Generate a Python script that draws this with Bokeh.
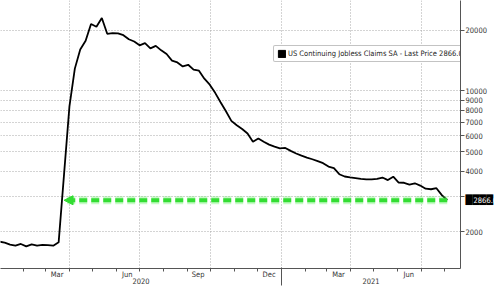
import pandas as pd
from bokeh.plotting import figure
from bokeh.models import (Range1d, FixedTicker, DatetimeTickFormatter, NumeralTickFormatter,
                          Legend, LegendItem, Arrow, NormalHead, DatetimeAxis, LogAxis)
from bokeh.embed import file_html
from bokeh.resources import INLINE

# ---- data (US continuing jobless claims, thousands, weekly) ----
start_date = "2020-01-01"
claims = [1786, 1766, 1727, 1706, 1739, 1692, 1732, 1706, 1720, 1716, 1706, 1772,
          3850, 8380, 12900, 16060, 17730, 21500, 20800, 23000, 19200, 19350, 19300,
          18900, 18050, 17580, 16840, 17270, 16270, 16740, 15900, 15240, 14140, 13850,
          13230, 13480, 12750, 12600, 11500, 10740, 9780, 8780, 7920, 7100, 6750, 6470,
          6150, 5590, 5800, 5590, 5410, 5290, 5180, 5210, 5040, 4890, 4770, 4670, 4580,
          4480, 4380, 4210, 4140, 3860, 3760, 3720, 3690, 3660, 3640, 3640, 3660, 3716,
          3610, 3750, 3510, 3500, 3430, 3480, 3390, 3270, 3250, 3290, 3040, 2866]
dates = pd.date_range(start_date, periods=len(claims), freq="7D")

y_ticks = [2000, 3000, 4000, 5000, 6000, 7000, 8000, 9000, 10000, 20000]
month_label_dates = ["2020-03-16", "2020-06-15", "2020-09-15", "2020-12-16", "2021-03-16", "2021-06-15"]
quarter_dates = ["2020-04-01", "2020-07-01", "2020-10-01", "2021-01-01", "2021-04-01", "2021-07-01"]
month_start_dates = [str(d.date()) for d in pd.date_range("2020-02-01", "2021-08-01", freq="MS")]
year_start = "2021-01-01"
series_name = "US Continuing Jobless Claims SA - Last Price"
arrow_tip_date = "2020-03-25"

x_start = pd.Timestamp("2020-01-02 14:00")
x_end = pd.Timestamp("2021-08-21 05:00")
y_lo, y_hi = 1314, 28100


def ms(d):
    return pd.Timestamp(d).value / 1e6


FONT = "'Liberation Sans Narrow', 'DejaVu Sans Condensed', 'Arial Narrow', sans-serif"
AX = "#555555"
TXT = "#333333"

p = figure(width=500, height=286, x_axis_type="datetime", y_axis_type="log",
           y_axis_location="right", output_backend="svg", toolbar_location=None,
           x_range=Range1d(x_start, x_end), y_range=Range1d(y_lo, y_hi),
           min_border_left=0, min_border_top=0, min_border_right=26, min_border_bottom=17)
p.outline_line_color = None
p.background_fill_color = "white"
p.border_fill_color = "white"

# grids
p.xgrid.ticker = FixedTicker(ticks=[ms(d) for d in quarter_dates])
p.ygrid.ticker = FixedTicker(ticks=y_ticks)
for g in (p.xgrid, p.ygrid):
    g.grid_line_color = "#a8a8a8"
    g.grid_line_dash = "1 2"
    g.grid_line_width = 1

# x axis (months)
xa = p.xaxis[0]
xa.ticker = FixedTicker(ticks=[ms(d) for d in month_label_dates],
                        minor_ticks=[ms(d) for d in month_start_dates])
xa.formatter = DatetimeTickFormatter(days="%b", months="%b", years="%b", hours="%b")
xa.major_tick_out = 0
xa.major_tick_in = 0
xa.minor_tick_out = 3
xa.minor_tick_in = 0
xa.axis_line_color = AX
xa.minor_tick_line_color = AX
xa.major_label_standoff = -2
xa.major_label_text_font_size = "7.5px"
xa.major_label_text_font = FONT
xa.major_label_text_color = TXT

# second x axis (years), labels centred on the visible part of each year
y2020_mid = x_start + (pd.Timestamp(year_start) - x_start) / 2
y2021_mid = pd.Timestamp(year_start) + (x_end - pd.Timestamp(year_start)) / 2
xa2 = DatetimeAxis(ticker=FixedTicker(ticks=[ms(y2020_mid), ms(y2021_mid)], minor_ticks=[ms(year_start)]),
                   formatter=DatetimeTickFormatter(days="%Y", months="%Y", years="%Y", hours="%Y"),
                   axis_line_color=None, major_tick_out=0, major_tick_in=0,
                   minor_tick_in=14, minor_tick_out=4, minor_tick_line_color=AX,
                   major_label_standoff=-8, major_label_text_font_size="7.5px",
                   major_label_text_font=FONT, major_label_text_color=TXT)
p.add_layout(xa2, "below")

# y axis (right)
ya = p.yaxis[0]
ya.ticker = FixedTicker(ticks=y_ticks, minor_ticks=[])
ya.formatter = NumeralTickFormatter(format="0")
ya.major_label_overrides = {3000: ""}
ya.major_tick_out = 4
ya.major_tick_in = 0
ya.minor_tick_out = 0
ya.axis_line_color = AX
ya.major_tick_line_color = AX
ya.major_label_standoff = 1
ya.major_label_text_font_size = "7.5px"
ya.major_label_text_font = FONT
ya.major_label_text_color = TXT

last = claims[-1]

# last-price tag: a black block (axis label made of block glyphs) under white text
tag_bg = LogAxis(ticker=FixedTicker(ticks=[last], minor_ticks=[]),
                 major_label_overrides={last: "\u2588\u2588\u2588\u2588"},
                 axis_line_color=None, major_tick_out=0, major_tick_in=0, minor_tick_out=0,
                 major_label_standoff=-24, major_label_text_font_size="9px",
                 major_label_text_font="DejaVu Sans", major_label_text_color="black")
p.add_layout(tag_bg, "right")
tag_txt = LogAxis(ticker=FixedTicker(ticks=[last], minor_ticks=[]),
                  formatter=NumeralTickFormatter(format="0.0"),
                  axis_line_color=None, major_tick_out=0, major_tick_in=0, minor_tick_out=0,
                  major_label_standoff=-23, major_label_text_font_size="7.5px",
                  major_label_text_font=FONT, major_label_text_color="white")
p.add_layout(tag_txt, "right")

# series
p.line(dates, claims, line_color="black", line_width=1.8)

# green dashed arrow at last price
p.add_layout(Arrow(end=None, x_start=ms(dates[-1]), y_start=last, x_end=ms(arrow_tip_date) + 2 * 86400000,
                   y_end=last, line_color="#5ff05f", line_alpha=0.35, line_width=8, line_dash="8 4"))
p.add_layout(Arrow(end=NormalHead(size=9, fill_color="#33dd33", line_color="#33dd33"),
                   x_start=ms(dates[-1]), y_start=last, x_end=ms(arrow_tip_date), y_end=last,
                   line_color="#33dd33", line_width=4, line_dash="8 4"))

# legend box
nan = float("nan")
key_black = p.quad(left=[nan], right=[nan], top=[nan], bottom=[nan], fill_color="black", line_color="black")
legend = Legend(items=[LegendItem(label=f"{series_name} {last:.1f}", renderers=[key_black], index=0)],
                location=(273, 206), label_text_font_size="7.5px", label_text_font=FONT,
                label_text_color="#222222", glyph_width=9, glyph_height=9, padding=3,
                margin=0, label_standoff=2, label_height=8, border_line_color="#888888",
                border_radius=2, background_fill_alpha=1)
p.add_layout(legend)

open("out.html", "w").write(file_html(p, INLINE))
